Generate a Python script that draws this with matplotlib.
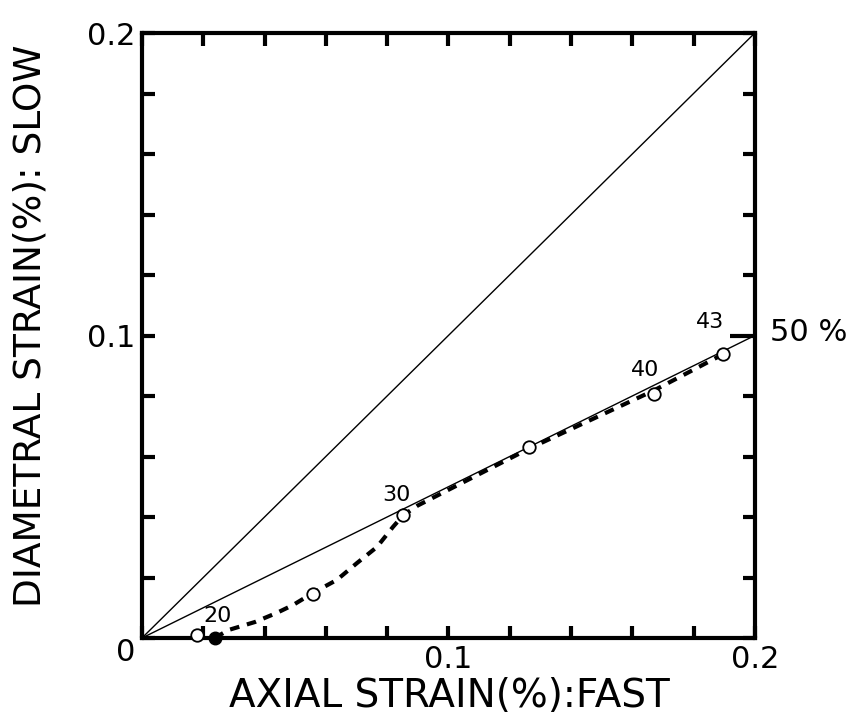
import numpy as np
import matplotlib.pyplot as plt
import matplotlib.transforms as mtrans

plt.rcParams['font.family'] = ['DejaVu Sans']

# open circles (fast axial, slow diametral)
x_open = [0.018, 0.0558, 0.0852, 0.1263, 0.167, 0.1896]
y_open = [0.001, 0.0147, 0.0407, 0.0631, 0.0807, 0.0939]
# filled point
x_fill = [0.0238]
y_fill = [0.0]
# dashed curve
x_dash = [0.0238, 0.0281, 0.0369, 0.0440, 0.0493, 0.0558, 0.0636, 0.0702, 0.0767, 0.0819, 0.0852,
          0.0900, 0.1263, 0.1670, 0.1900]
y_dash = [0.0, 0.0026, 0.0053, 0.0083, 0.0109, 0.0149, 0.0192, 0.0248, 0.0301, 0.0367, 0.0405,
          0.0438, 0.0626, 0.0818, 0.0940]
# reference lines: 100% and 50%
x_ref = [0.0, 0.2]
y_ref100 = [0.0, 0.2]
y_ref50 = [0.0, 0.1]
# point labels
lab_txt = ['20', '30', '40', '43']
lab_x = [0.0248, 0.0832, 0.1641, 0.1853]
lab_y = [0.0073, 0.0473, 0.0886, 0.1045]

fig = plt.figure(figsize=(8.5, 7.26), dpi=100)
ax = fig.add_axes([0.167, 0.1212, 0.721, 0.8333])

ax.plot(x_ref, y_ref100, color='black', lw=1.0)
ax.plot(x_ref, y_ref50, color='black', lw=1.0)
ax.plot(x_dash, y_dash, color='black', lw=3.0, dashes=(2.3, 1.9))
ax.plot(x_open, y_open, 'o', ms=9, mfc='white', mec='black', mew=1.3, clip_on=False, zorder=5)
ax.plot(x_fill, y_fill, 'o', ms=9, mfc='black', mec='black', clip_on=False, zorder=5)

for t, xx, yy in zip(lab_txt, lab_x, lab_y):
    ax.text(xx, yy, t, fontsize=16, ha='center', va='center')
ax.text(1.024, 0.505, '50 %', transform=ax.transAxes, fontsize=22, ha='left', va='center')

ax.set_xlim(0, 0.2)
ax.set_ylim(0, 0.2)
ticks = np.arange(0, 0.2001, 0.02)
xlabs = ['' for v in ticks]
xlabs[5] = '0.1'
xlabs[10] = '0.2'
ylabs = ['' for v in ticks]
ylabs[0] = '0'
ylabs[5] = '0.1'
ylabs[10] = '0.2'
ax.set_xticks(ticks)
ax.set_yticks(ticks)
ax.set_xticklabels(xlabs)
ax.set_yticklabels(ylabs)
ax.tick_params(direction='in', length=9, width=3, labelsize=22, top=True, right=True, pad=5)

for sp in ax.spines.values():
    sp.set_linewidth(3)

# longer tick at the 50% line on the right
ax.yaxis.get_major_ticks()[5].tick2line.set_markersize(18)

# shift the origin label slightly down
lab0 = ax.get_yticklabels()[0]
lab0.set_transform(lab0.get_transform() + mtrans.ScaledTranslation(0, -8 / 72, fig.dpi_scale_trans))

ax.set_xlabel('AXIAL STRAIN(%):FAST', fontsize=28)
ax.set_ylabel('DIAMETRAL STRAIN(%): SLOW', fontsize=27)
ax.xaxis.set_label_coords(0.502, -0.064)
ax.yaxis.set_label_coords(-0.152, 0.516)

fig.savefig('out.png', dpi=100)
